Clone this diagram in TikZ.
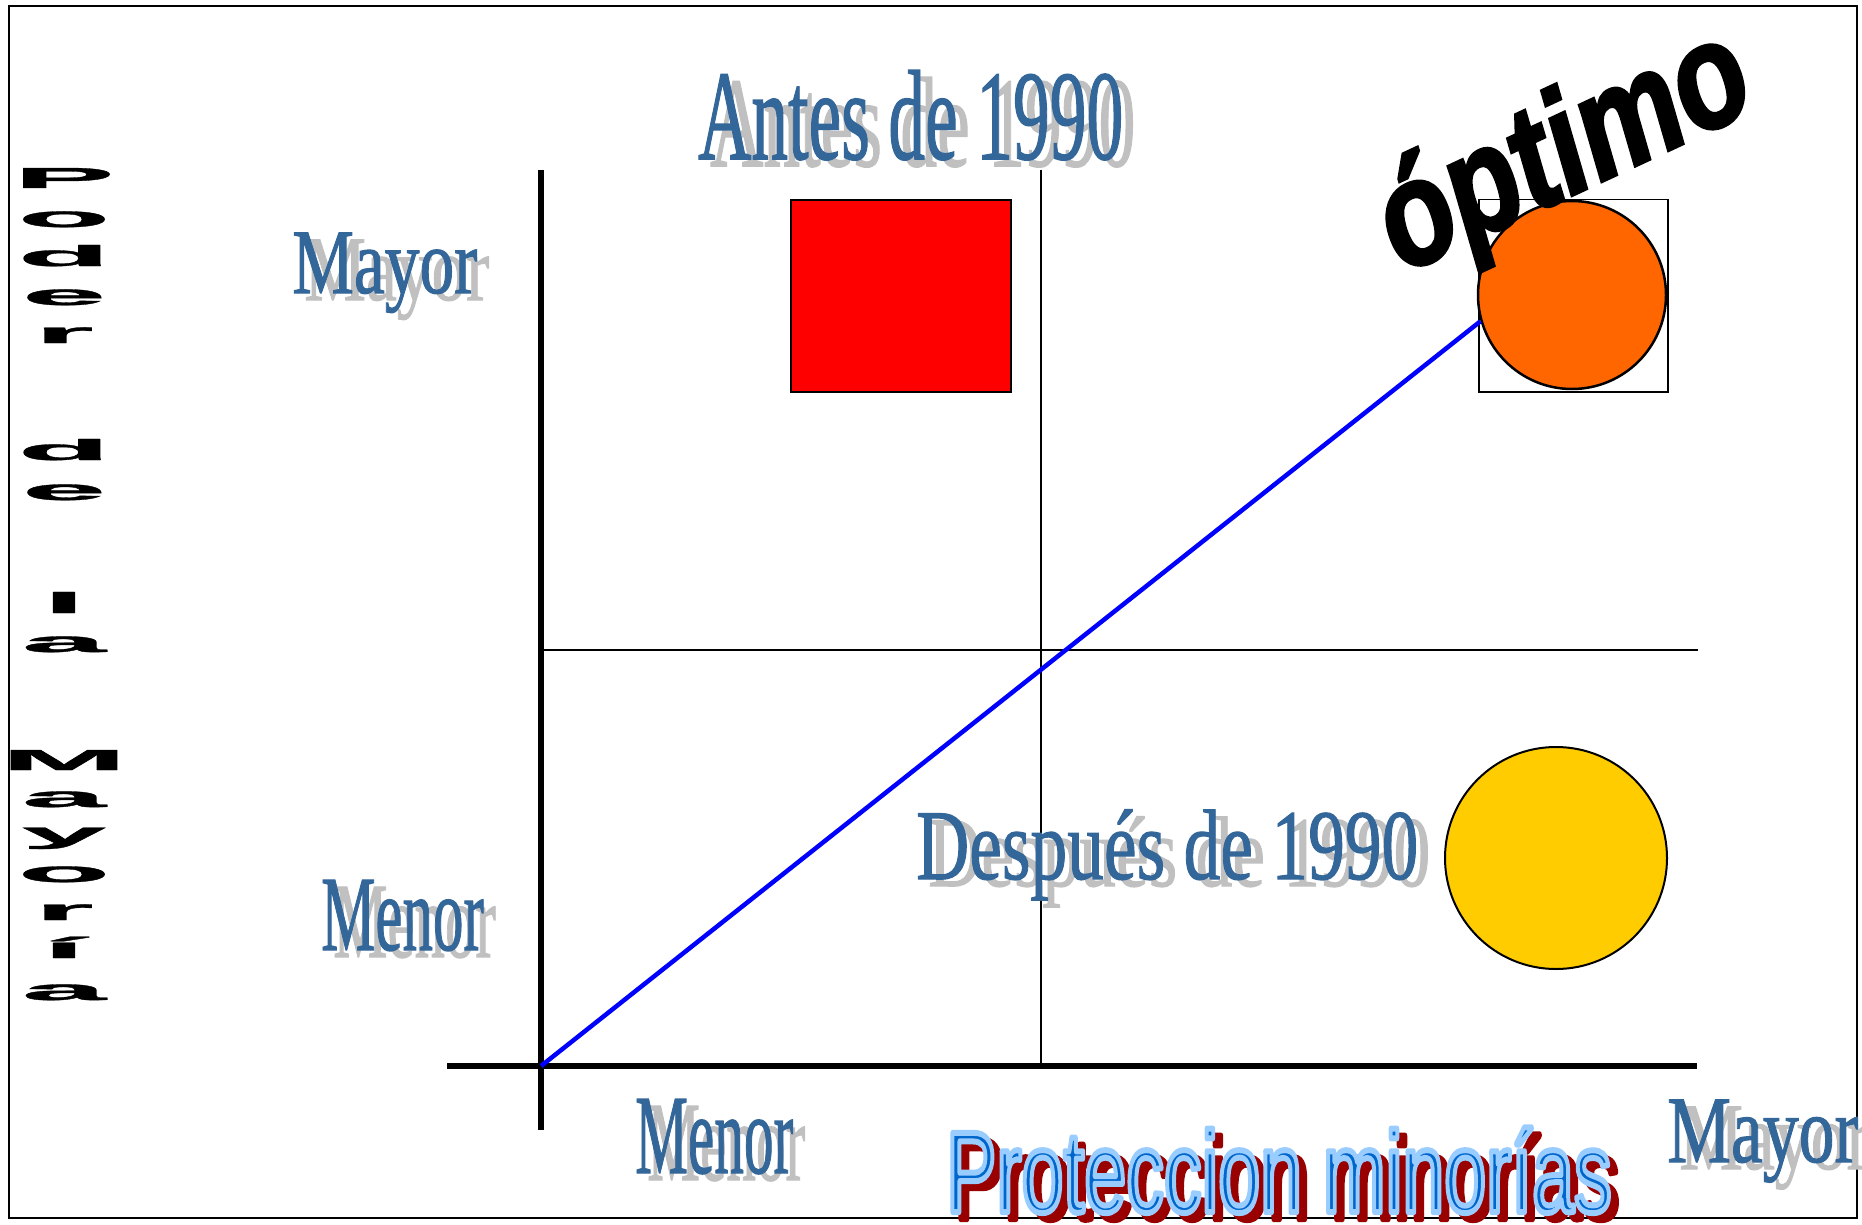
\documentclass[tikz,border=0pt]{standalone}
\usepackage{fontspec}
\newfontfamily\wserif[FakeBold=1.2]{Liberation Serif}
\newfontfamily\wsans{Liberation Sans}
\newfontfamily\vfont[FakeBold=1]{Liberation Sans Bold}
\newfontfamily\optf[FakeBold=2.5]{Liberation Sans Bold Italic}
\definecolor{wblue}{RGB}{51,102,153}
\definecolor{shgray}{RGB}{192,192,192}
\definecolor{orangeC}{RGB}{255,102,0}
\definecolor{yellowC}{RGB}{255,204,0}
\definecolor{pblue}{RGB}{0,102,204}
\definecolor{pred}{RGB}{153,0,0}
\newcommand\wart[6]{%
  \node (#1s) [anchor=base west, inner sep=0, text=shgray] at (#2+12,#3+7) {\fontsize{#4}{#4}\wserif\scalebox{#5}[1]{#6}};
  \node (#1) [anchor=base west, inner sep=0, text=wblue] at (#2,#3) {\fontsize{#4}{#4}\wserif\scalebox{#5}[1]{#6}};
}
\newcommand\vl[3]{\node (#1) [anchor=base, inner sep=0] at (64,#2) {\fontsize{29}{29}\vfont\scalebox{5.2}[1]{#3}};}
\tikzset{
  thickaxis/.style={line width=6pt},
  thinaxis/.style={line width=2pt},
  trend/.style={line width=4.5pt, blue}
}
\begin{document}
\begin{tikzpicture}[x=1pt,y=-1pt]
\useasboundingbox (0,0) rectangle (1862,1225);
\fill[white] (0,0) rectangle (1862,1225);
\draw[line width=2.5pt] (9,6) rectangle (1857,1218);
% axes
\coordinate (org) at (541,1066);
\coordinate (ytop) at (541,170);
\coordinate (ybot) at (541,1130);
\coordinate (xleft) at (447,1066);
\coordinate (xright) at (1697,1066);
\coordinate (mtop) at (1041,170);
\coordinate (mbot) at (1041,1066);
\coordinate (hl) at (541,650);
\coordinate (hr) at (1698,650);
\draw[thinaxis] (mtop) -- (mbot);
\draw[thinaxis] (hl) -- (hr);
\draw[thickaxis] (xleft) -- (xright);
\draw[thickaxis] (ytop) -- (ybot);
% shapes
\node (antesbox) [draw, fill=red, line width=2pt, minimum width=220pt, minimum height=192pt, inner sep=0, anchor=north west] at (790,199) {};
\node (optbox) [draw, line width=1.5pt, minimum width=189pt, minimum height=192pt, inner sep=0, anchor=north west] at (1478,199) {};
\node (optc) [circle, draw, fill=orangeC, line width=2.5pt, minimum size=188pt, inner sep=0] at (1572,295) {};
\node (despc) [circle, draw, fill=yellowC, line width=2pt, minimum size=222pt, inner sep=0] at (1556,858) {};
\draw[trend] (org) -- (optc.196);
% word art labels
\wart{antes}{698}{159}{128}{0.575}{Antes de 1990}
\wart{mayl}{292}{293}{92}{0.755}{Mayor}
\wart{menl}{321}{950}{107}{0.57}{Menor}
\wart{menb}{635}{1173}{113}{0.525}{Menor}
\wart{mayr}{1667}{1162}{95}{0.755}{Mayor}
\wart{desp}{916}{879}{100}{0.735}{Después de 1990}
% Proteccion minorias
\node (prots) [anchor=base west, inner sep=0, text=pred] at (954,1219) {\fontsize{115}{115}\wsans\scalebox{0.655}[1]{\special{pdf:literal direct 0.6 0 0 RG 6 w 1 j 2 Tr}Proteccion minorías\special{pdf:literal direct 0 Tr}}};
\node (prot) [anchor=base west, inner sep=0, text=pblue] at (946,1212) {\fontsize{115}{115}\wsans\scalebox{0.655}[1]{\special{pdf:literal direct 0.6 0.8 1 RG 6 w 1 j 2 Tr}Proteccion minorías\special{pdf:literal direct 0 Tr}}};
% vertical label
\vl{v1}{188}{P}
\vl{v2}{227}{o}
\vl{v3}{266}{d}
\vl{v4}{305}{e}
\vl{v5}{343}{r}
\vl{v6}{460}{d}
\vl{v7}{500}{e}
\vl{v8}{613}{l}
\vl{v9}{652}{a}
\vl{v10}{770}{M}
\vl{v11}{807}{a}
\vl{v12}{843}{y}
\vl{v13}{882}{o}
\vl{v14}{920}{r}
\vl{v15}{958}{í}
\vl{v16}{1000}{a}
% optimo
\node (optimo) [anchor=base west, inner sep=0, rotate=25] at (1403,274) {\fontsize{148}{148}\optf\scalebox{0.8}[1]{óptimo}};
\end{tikzpicture}
\end{document}
